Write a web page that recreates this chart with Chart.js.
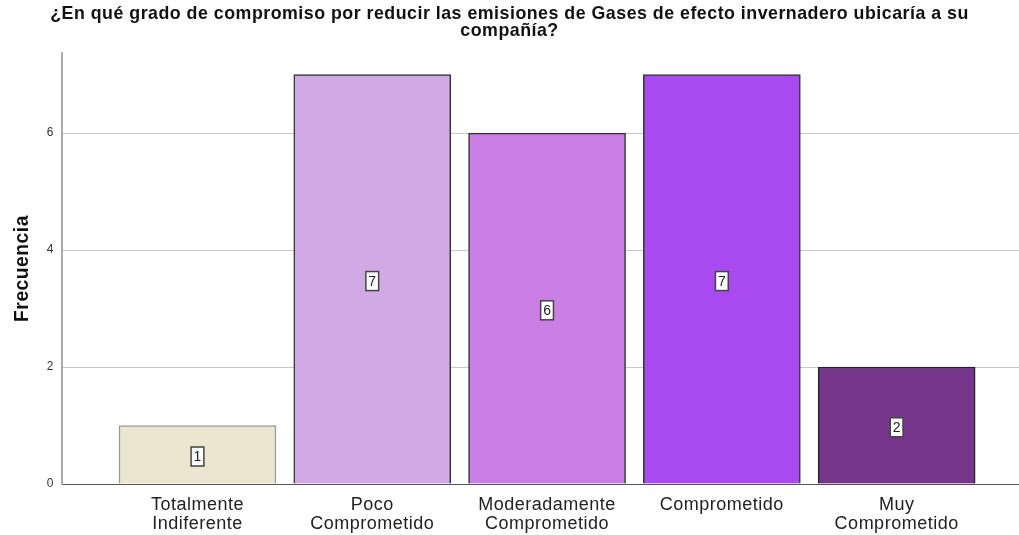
<!DOCTYPE html>
<html>
<head>
<meta charset="utf-8">
<script src="https://cdn.jsdelivr.net/npm/chart.js@4"></script>
<style>
  html, body { margin: 0; padding: 0; background: #fff; }
  #wrap { width: 1019px; height: 535px; }
</style>
</head>
<body>
<div id="wrap"><canvas id="grafico"></canvas></div>
<script>
const categorias = [
  ["Totalmente", "Indiferente"],
  ["Poco", "Comprometido"],
  ["Moderadamente", "Comprometido"],
  ["Comprometido"],
  ["Muy", "Comprometido"]
];
const frecuencias = [1, 7, 6, 7, 2];
const coloresBarras = ["#ECE5CF", "#D0A9E5", "#C97FE3", "#A94AF0", "#75368C"];
const coloresBorde = ["#9a9a9a", "#333333", "#333333", "#333333", "#222222"];
const ticksY = [0, 2, 4, 6];
const titulo = [
  "¿En qué grado de compromiso por reducir las emisiones de Gases de efecto invernadero ubicaría a su",
  "compañía?"
];

const fuente = "'Liberation Sans', Arial, sans-serif";

// el texto del original va un poco espaciado
const espaciado = {
  id: "espaciado",
  beforeUpdate(chart) { chart.ctx.letterSpacing = "0.5px"; },
  beforeLayout(chart) { chart.ctx.letterSpacing = "0.5px"; },
  beforeDraw(chart) { chart.ctx.letterSpacing = "0.5px"; }
};

// etiquetas blancas con el valor en el centro de cada barra
const etiquetasValor = {
  id: "etiquetasValor",
  afterDatasetsDraw(chart) {
    const ctx = chart.ctx;
    const meta = chart.getDatasetMeta(0);
    ctx.save();
    ctx.letterSpacing = "0px";
    ctx.font = "14px " + fuente;
    ctx.textAlign = "center";
    ctx.textBaseline = "middle";
    meta.data.forEach((bar, i) => {
      const cx = bar.x;
      const cy = (bar.y + bar.base) / 2 + 2;
      const texto = String(frecuencias[i]);
      const w = ctx.measureText(texto).width + 5;
      const h = 19;
      ctx.fillStyle = "#ffffff";
      ctx.fillRect(cx - w / 2, cy - h / 2, w, h);
      ctx.strokeStyle = "#444444";
      ctx.lineWidth = 1.5;
      ctx.strokeRect(cx - w / 2, cy - h / 2, w, h);
      ctx.fillStyle = "#222222";
      ctx.fillText(texto, cx, cy + 1);
    });
    ctx.restore();
  }
};

new Chart(document.getElementById("grafico"), {
  type: "bar",
  data: {
    datasets: [{
      data: frecuencias.map((v, i) => ({ x: i, y: v })),
      backgroundColor: coloresBarras,
      borderColor: coloresBorde,
      borderWidth: 1.5,
      barThickness: 157
    }]
  },
  options: {
    responsive: true,
    maintainAspectRatio: false,
    animation: false,
    layout: { padding: 0 },
    plugins: {
      legend: { display: false },
      tooltip: { enabled: false },
      title: {
        display: true,
        text: titulo,
        color: "#111",
        font: { family: fuente, size: 17.8, weight: "bold", lineHeight: 0.955 },
        padding: { top: 6, bottom: 13 }
      }
    },
    scales: {
      x: {
        type: "linear",
        offset: false,
        min: -0.775,
        max: 4.70,
        afterFit: (s) => { s.height = 51; },
        afterBuildTicks: (s) => { s.ticks = categorias.map((_, i) => ({ value: i })); },
        grid: { display: false, drawTicks: false },
        border: { color: "#555", width: 1 },
        ticks: {
          color: "#222",
          padding: 12,
          maxRotation: 0,
          autoSkip: false,
          font: { family: fuente, size: 18, lineHeight: 1.02 },
          callback: (v) => categorias[v]
        }
      },
      y: {
        min: 0,
        max: 7.37,
        afterFit: (s) => { s.width = 62; },
        afterBuildTicks: (s) => { s.ticks = ticksY.map(v => ({ value: v })); },
        grid: {
          color: (c) => c.tick && c.tick.value === 0 ? "#555" : "#c8c8c8",
          drawTicks: false
        },
        border: { color: "#aaaaaa", width: 2 },
        ticks: {
          color: "#333",
          padding: 8,
          font: { family: fuente, size: 12 }
        },
        title: {
          display: true,
          text: "Frecuencia",
          color: "#111",
          font: { family: fuente, size: 19.3, weight: "bold" },
          padding: { top: 11, bottom: 0 }
        }
      }
    }
  },
  plugins: [espaciado, etiquetasValor]
});
</script>
</body>
</html>
